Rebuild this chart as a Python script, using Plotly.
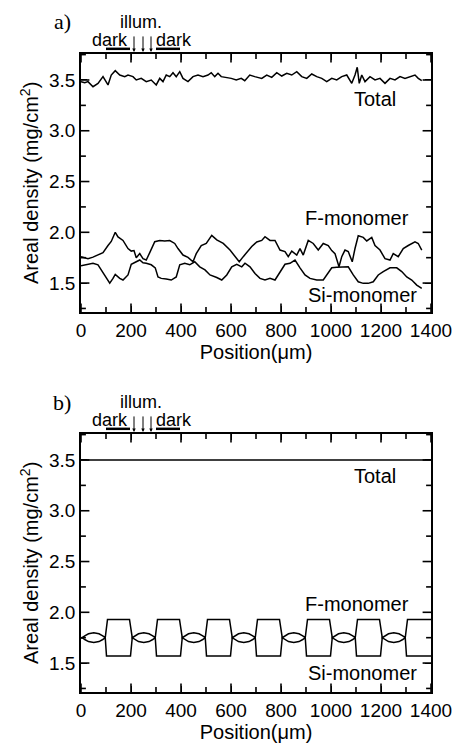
import plotly.graph_objects as go
from plotly.subplots import make_subplots

# ---------- panel a data (measured) ----------
total_a_x = [0, 15, 28, 48, 68, 88, 108, 121, 137, 155, 175, 188, 208, 221, 241, 261, 281, 301, 315, 328,
             341, 355, 368, 381, 395, 408, 428, 448, 468, 488, 508, 521, 535, 548, 561, 581, 601, 621, 641, 655,
             675, 695, 723, 743, 763, 783, 803, 823, 843, 863, 883, 903, 923, 943, 963, 983, 1003, 1023, 1043, 1063,
             1083, 1096, 1105, 1113, 1123, 1136, 1156, 1176, 1196, 1216, 1236, 1256, 1276, 1296, 1316, 1336, 1349, 1363]
total_a_y = [3.484, 3.474, 3.484, 3.434, 3.467, 3.533, 3.451, 3.549, 3.592, 3.549, 3.533, 3.549, 3.533, 3.50, 3.516, 3.484, 3.50, 3.451, 3.516, 3.484,
             3.549, 3.533, 3.572, 3.533, 3.582, 3.516, 3.484, 3.533, 3.549, 3.533, 3.549, 3.572, 3.533, 3.566, 3.533, 3.526, 3.516, 3.50, 3.516, 3.493,
             3.549, 3.533, 3.516, 3.549, 3.526, 3.572, 3.539, 3.566, 3.549, 3.582, 3.533, 3.516, 3.559, 3.533, 3.516, 3.484, 3.516, 3.50, 3.533, 3.549,
             3.467, 3.549, 3.625, 3.467, 3.549, 3.484, 3.533, 3.50, 3.516, 3.467, 3.516, 3.50, 3.533, 3.516, 3.533, 3.549, 3.516, 3.493]

f_a_x = [0, 28, 48, 68, 88, 108, 121, 137, 148, 168, 188, 201, 212, 221, 235, 248, 261, 275, 295, 315,
         335, 355, 375, 388, 408, 428, 448, 461, 481, 501, 523, 543, 569, 596, 616, 633, 649, 669, 683, 703,
         723, 736, 756, 776, 796, 816, 829, 843, 863, 876, 889, 909, 929, 949, 969, 989, 1003, 1016, 1032, 1043,
         1056, 1069, 1085, 1096, 1109, 1129, 1143, 1163, 1176, 1196, 1216, 1236, 1249, 1269, 1289, 1309, 1336, 1349, 1363]
f_a_y = [1.76, 1.74, 1.755, 1.78, 1.80, 1.87, 1.91, 2.0, 1.955, 1.92, 1.84, 1.815, 1.82, 1.75, 1.79, 1.74, 1.727, 1.80, 1.907, 1.92,
         1.915, 1.918, 1.89, 1.84, 1.776, 1.753, 1.71, 1.79, 1.87, 1.89, 1.97, 1.925, 1.89, 1.825, 1.76, 1.71, 1.76, 1.825, 1.86, 1.905,
         1.92, 1.956, 1.92, 1.92, 1.825, 1.81, 1.76, 1.815, 1.776, 1.84, 1.776, 1.92, 1.89, 1.825, 1.89, 1.87, 1.82, 1.79, 1.66, 1.76,
         1.825, 1.81, 1.71, 1.84, 1.966, 1.95, 1.915, 1.95, 1.87, 1.825, 1.74, 1.727, 1.79, 1.76, 1.84, 1.87, 1.905, 1.89, 1.825]

si_a_x = [0, 28, 48, 68, 81, 101, 115, 128, 137, 155, 168, 188, 201, 221, 235, 248, 261, 281, 297, 308,
          321, 341, 361, 381, 395, 415, 435, 455, 475, 496, 516, 543, 563, 583, 603, 623, 643, 656, 676, 696,
          716, 736, 756, 776, 796, 816, 836, 856, 876, 896, 916, 943, 969, 983, 1003, 1023, 1043, 1069, 1089, 1109,
          1129, 1149, 1169, 1189, 1209, 1236, 1263, 1283, 1303, 1323, 1343, 1363]
si_a_y = [1.67, 1.685, 1.695, 1.68, 1.63, 1.56, 1.50, 1.546, 1.586, 1.546, 1.53, 1.58, 1.685, 1.71, 1.727, 1.70, 1.695, 1.68, 1.65, 1.56,
          1.546, 1.54, 1.53, 1.56, 1.68, 1.695, 1.68, 1.71, 1.66, 1.63, 1.58, 1.555, 1.53, 1.58, 1.66, 1.685, 1.66, 1.695, 1.66, 1.595,
          1.546, 1.53, 1.546, 1.53, 1.613, 1.685, 1.695, 1.727, 1.65, 1.58, 1.546, 1.53, 1.53, 1.58, 1.65, 1.655, 1.66, 1.66, 1.58, 1.513,
          1.497, 1.497, 1.513, 1.58, 1.613, 1.65, 1.65, 1.613, 1.56, 1.53, 1.48, 1.447]

# ---------- panel b data (one period profile, repeated per period) ----------
total_b_x = [0, 1400]
total_b_y = [3.5, 3.5]
period_starts = [0, 200, 400, 600, 800, 1000, 1200]
lens_dx = [5, 15, 30, 51, 72, 87, 97]
lens_f = [1.75, 1.768, 1.788, 1.798, 1.788, 1.768, 1.75]
lens_si = [1.75, 1.732, 1.712, 1.702, 1.712, 1.732, 1.75]
plateau_f_dx = [106, 194]
plateau_f = [1.93, 1.93]
plateau_si_dx = [102, 198]
plateau_si = [1.57, 1.57]
start_x, start_val = 0, 1.75
end_x = 1400

f_b_x, f_b_y = [start_x], [start_val]
si_b_x, si_b_y = [start_x], [start_val]
for p in period_starts:
    f_b_x += [p + d for d in lens_dx] + [p + d for d in plateau_f_dx]
    f_b_y += lens_f + plateau_f
    si_b_x += [p + d for d in lens_dx] + [p + d for d in plateau_si_dx]
    si_b_y += lens_si + plateau_si
f_b_x.append(end_x); f_b_y.append(plateau_f[-1])
si_b_x.append(end_x); si_b_y.append(plateau_si[-1])

# axis ranges and tick positions (major / minor)
x_range = [0, 1400]
y_range = [1.215, 3.756]
x_ticks = [0, 200, 400, 600, 800, 1000, 1200, 1400]
x_minor = [100, 300, 500, 700, 900, 1100, 1300]
y_ticks = [1.5, 2.0, 2.5, 3.0, 3.5]
y_minor = [1.25, 1.75, 2.25, 2.75, 3.25, 3.75]
dark_spans = [(100, 196), (300, 396)]
arrow_x = [212, 248, 280]

# ---------- figure ----------
W, H = 458, 749
mt, mb, ml, mr = 54, 57, 81, 27
ph = H - mt - mb
pw = W - ml - mr
gap = (434 - 312) / ph

def px2paper(px, py):
    return (px - ml) / pw, (H - mb - py) / ph

fig = make_subplots(rows=2, cols=1, vertical_spacing=gap)
line = dict(color="black", width=1.5)
fig.add_trace(go.Scatter(x=total_a_x, y=total_a_y, mode="lines", line=line), row=1, col=1)
fig.add_trace(go.Scatter(x=f_a_x, y=f_a_y, mode="lines", line=line), row=1, col=1)
fig.add_trace(go.Scatter(x=si_a_x, y=si_a_y, mode="lines", line=line), row=1, col=1)
fig.add_trace(go.Scatter(x=total_b_x, y=total_b_y, mode="lines", line=line), row=2, col=1)
fig.add_trace(go.Scatter(x=f_b_x, y=f_b_y, mode="lines", line=line), row=2, col=1)
fig.add_trace(go.Scatter(x=si_b_x, y=si_b_y, mode="lines", line=line), row=2, col=1)

# inside tick marks on all four sides (markers centred on the frame, outer half clipped)
def tick_marks(row, xs, ys, symbol, size):
    fig.add_trace(go.Scatter(x=xs, y=ys, mode="markers", hoverinfo="skip", cliponaxis=True,
                             marker=dict(symbol=symbol, size=size, color="black",
                                         line=dict(color="black", width=1.6))),
                  row=row, col=1)

for r in (1, 2):
    for vals, size in ((x_ticks, 12), (x_minor, 7)):
        tick_marks(r, vals + vals, [y_range[0]] * len(vals) + [y_range[1]] * len(vals), "line-ns-open", size)
    for vals, size in ((y_ticks, 12), (y_minor, 7)):
        tick_marks(r, [x_range[0]] * len(vals) + [x_range[1]] * len(vals), vals + vals, "line-ew-open", size)

FONT = "Liberation Sans, Arial, sans-serif"
tickfont = dict(family=FONT, size=19, color="black")
titlefont = dict(family=FONT, size=20, color="black")

fig.update_layout(template="none", width=W, height=H, margin=dict(t=mt, b=mb, l=ml, r=mr),
                  showlegend=False)
fig.update_xaxes(range=x_range, tick0=x_ticks[0], dtick=x_ticks[1] - x_ticks[0],
                 ticks="inside", ticklen=6, tickwidth=1, tickcolor="#000000",
                 showline=True, linecolor="black", linewidth=1.6, mirror="ticks", showgrid=False,
                 zeroline=False, tickfont=tickfont,
                 title=dict(text="Position(\u03bcm)", font=titlefont, standoff=4))
fig.update_yaxes(range=y_range, tick0=y_ticks[0], dtick=y_ticks[1] - y_ticks[0], tickformat=".1f",
                 ticks="inside", ticklen=6, tickwidth=1, tickcolor="#000000",
                 showline=True, linecolor="black", linewidth=1.6, mirror="ticks", showgrid=False,
                 zeroline=False, tickfont=tickfont)

dom_a = list(fig.layout.yaxis.domain)
dom_b = list(fig.layout.yaxis2.domain)

lab = dict(family=FONT, size=20, color="black")
small = dict(family=FONT, size=18, color="black")
annots = []
for i, (xr, yr) in enumerate((("x", "y"), ("x2", "y2"))):
    annots.append(dict(x=1176, y=3.31 if i == 0 else 3.34, xref=xr, yref=yr, text="Total",
                       showarrow=False, font=lab))
    annots.append(dict(x=1105, y=2.14 if i == 0 else 2.08, xref=xr, yref=yr, text="F-monomer",
                       showarrow=False, font=lab))
    annots.append(dict(x=1124, y=1.38 if i == 0 else 1.40, xref=xr, yref=yr, text="Si-monomer",
                       showarrow=False, font=lab))
    dom = yr + " domain"
    annots.append(dict(x=116, y=1.055, xref=xr, yref=dom, text="dark", showarrow=False, font=small,
                       xanchor="center", yanchor="middle"))
    annots.append(dict(x=372, y=1.055, xref=xr, yref=dom, text="dark", showarrow=False, font=small,
                       xanchor="center", yanchor="middle"))
    annots.append(dict(x=240, y=1.125, xref=xr, yref=dom, text="illum.", showarrow=False, font=small,
                       xanchor="center", yanchor="middle"))
    for ax_x in arrow_x:
        annots.append(dict(x=ax_x, y=1.008, xref=xr, yref=dom, text="", showarrow=True,
                           ax=0, ay=-17, arrowhead=2, arrowsize=0.7, arrowwidth=1, arrowcolor="black"))
    dy = dom_a if i == 0 else dom_b
    tx, _ = px2paper(29, 0)
    annots.append(dict(x=tx, y=(dy[0] + dy[1]) / 2, xref="paper", yref="paper",
                       text="Areal density (mg/cm<sup>2</sup>)", textangle=-90, showarrow=False,
                       font=titlefont, xanchor="center", yanchor="middle"))

for text, (px, py) in (("a)", (62, 22)), ("b)", (62, 402))):
    xx, yy = px2paper(px, py)
    annots.append(dict(x=xx, y=yy, xref="paper", yref="paper", text=text, showarrow=False,
                       xanchor="center", yanchor="middle",
                       font=dict(family="Liberation Serif, Times New Roman, serif", size=22, color="black")))
fig.update_layout(annotations=annots)

shapes = []
for xr, yr in (("x", "y"), ("x2", "y2")):
    for x0, x1 in dark_spans:
        shapes.append(dict(type="line", xref=xr, yref=yr + " domain", x0=x0, x1=x1, y0=1.02, y1=1.02,
                           line=dict(color="black", width=2.5)))
fig.update_layout(shapes=shapes)

fig.write_html("out.html")
